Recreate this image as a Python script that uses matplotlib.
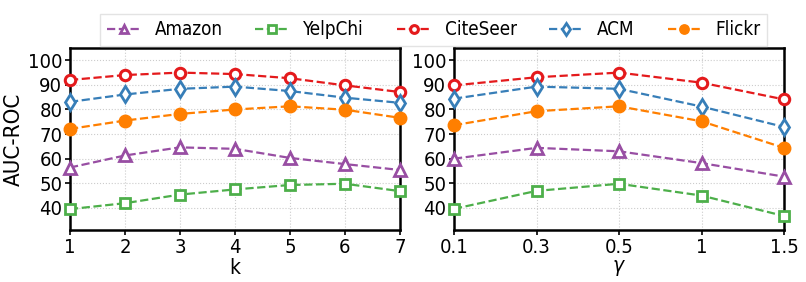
import matplotlib
matplotlib.use('Agg')
import matplotlib.pyplot as plt
import numpy as np

plt.rcParams['font.family'] = 'DejaVu Sans'
plt.rcParams['font.stretch'] = 'condensed'

datasets = ['Amazon', 'YelpChi', 'CiteSeer', 'ACM', 'Flickr']
k_labels = ['1', '2', '3', '4', '5', '6', '7']
gamma_labels = ['0.1', '0.3', '0.5', '1', '1.5']

# AUC-ROC vs k
k_amazon = [56.4, 61.3, 64.6, 64.0, 60.3, 57.8, 55.4]
k_yelpchi = [39.5, 41.9, 45.4, 47.5, 49.3, 49.8, 46.8]
k_citeseer = [92.0, 94.0, 95.0, 94.4, 92.7, 89.8, 87.1]
k_acm = [83.1, 86.1, 88.4, 89.3, 87.5, 84.8, 82.7]
k_flickr = [72.1, 75.5, 78.2, 80.0, 81.3, 79.9, 76.6]

# AUC-ROC vs gamma
g_amazon = [60.0, 64.4, 63.0, 58.2, 52.7]
g_yelpchi = [39.6, 46.9, 49.8, 45.0, 36.7]
g_citeseer = [89.8, 93.1, 95.0, 90.9, 84.1]
g_acm = [84.4, 89.3, 88.4, 81.2, 72.9]
g_flickr = [73.6, 79.3, 81.3, 75.2, 64.4]

styles = [
    dict(color='#984ea3', marker='^', mfc='white', ms=8, mew=2),
    dict(color='#4daf4a', marker='s', mfc='white', ms=7.5, mew=2),
    dict(color='#e41a1c', marker='o', mfc='white', ms=7.5, mew=2.2),
    dict(color='#377eb8', marker='d', mfc='white', ms=8, mew=2),
    dict(color='#ff7f00', marker='o', ms=9, mew=1),
]

fig = plt.figure(figsize=(8.06, 2.82), dpi=100)
ax1 = fig.add_axes([70 / 806, 52 / 282, 330 / 806, 182 / 282])
ax2 = fig.add_axes([454 / 806, 52 / 282, 330 / 806, 182 / 282])

panels = [
    (ax1, k_labels, [k_amazon, k_yelpchi, k_citeseer, k_acm, k_flickr], 'k'),
    (ax2, gamma_labels, [g_amazon, g_yelpchi, g_citeseer, g_acm, g_flickr], r'$\gamma$'),
]

for ax, labels, series, xlabel in panels:
    x = np.arange(len(labels))
    for name, vals, st in zip(datasets, series, styles):
        ax.plot(x, vals, linestyle='--', lw=1.6, label=name, clip_on=False,
                zorder=3, **st)
    ax.set_xticks(x)
    ax.set_xticklabels(labels)
    ax.set_xlim(0, len(labels) - 1)
    ax.set_ylim(31, 105)
    ax.set_yticks([40, 50, 60, 70, 80, 90, 100])
    ax.set_xlabel(xlabel, fontsize=15, labelpad=1)
    ax.tick_params(labelsize=14.5, width=1.2, length=3.5, pad=2)
    ax.grid(True, linestyle=':', color='#cccccc', lw=0.8)
    for s in ax.spines.values():
        s.set_linewidth(1.8)

ax1.set_ylabel('AUC-ROC', fontsize=16, labelpad=3)

handles, names = ax1.get_legend_handles_labels()
fig.legend(handles, names, loc='upper center', ncol=5, bbox_to_anchor=(0.538, 0.985),
           fontsize=13.5, frameon=True, fancybox=False, edgecolor='#dddddd',
           handlelength=1.8, handletextpad=0.75, columnspacing=1.75,
           markerscale=0.75, borderpad=0.35)

plt.savefig('out.png')
plt.close()
